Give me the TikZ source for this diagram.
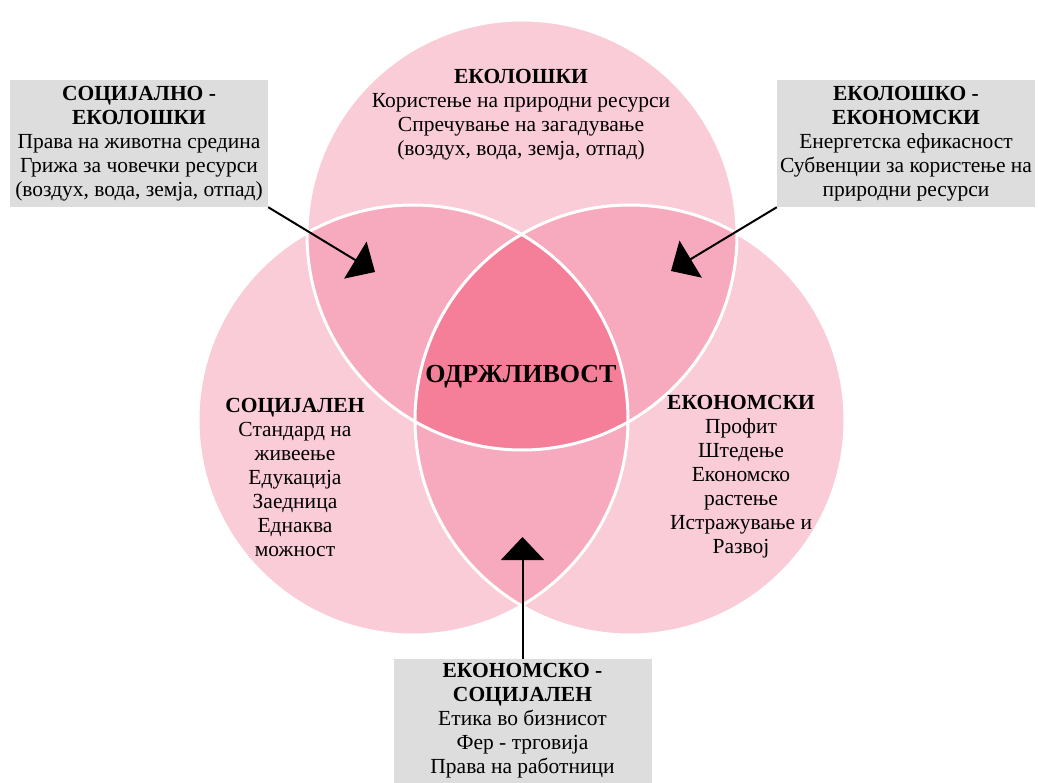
\documentclass[tikz,border=0pt]{standalone}
\usepackage{fontspec}
\setmainfont{Liberation Serif}
\usetikzlibrary{arrows.meta}
\usetikzlibrary{positioning}
\definecolor{light-pink}{RGB}{249, 204, 216}
\definecolor{mid-pink}{RGB}{247, 170, 190}
\definecolor{dark-pink}{RGB}{245, 126, 153}
\definecolor{box-gray}{RGB}{221, 221, 221}
\tikzset{
  textfont/.style={font=\fontsize{21.5}{24}\selectfont},
  infobox/.style={textfont, fill=box-gray, minimum width=258pt, align=center, inner sep=0pt},
  circlabel/.style={textfont, align=center, inner sep=0pt},
  pointer/.style={line width=2pt, -{Triangle[length=23pt,width=43pt]}}
}
\begin{document}
\begin{tikzpicture}[x=1pt,y=-1pt]
\useasboundingbox (0,0) rectangle (1038,783);
\coordinate (eko) at (522,235);
\coordinate (soc) at (413,420);
\coordinate (ekon) at (630,420);

\fill[light-pink] (eko) circle (215pt);
\fill[light-pink] (soc) circle (215pt);
\fill[light-pink] (ekon) circle (215pt);
\begin{scope}
\clip (eko) circle (215pt);
\fill[mid-pink] (soc) circle (215pt);
\fill[mid-pink] (ekon) circle (215pt);
\end{scope}
\begin{scope}
\clip (soc) circle (215pt);
\fill[mid-pink] (ekon) circle (215pt);
\end{scope}
\begin{scope}
\clip (eko) circle (215pt);
\clip (soc) circle (215pt);
\fill[dark-pink] (ekon) circle (215pt);
\end{scope}
\draw[white, line width=3pt] (eko) circle (215pt) (soc) circle (215pt) (ekon) circle (215pt);

\node[circlabel] (ekolabel) at (521,115) {\textbf{ЕКОЛОШКИ}\\Користење на природни ресурси\\Спречување на загадување\\(воздух, вода, земја, отпад)};
\node[circlabel] (soclabel) at (295,477) {\textbf{СОЦИЈАЛЕН}\\Стандард на\\живеење\\Едукација\\Заедница\\Еднаква\\можност};
\node[circlabel] (ekonlabel) at (741,477) {\textbf{ЕКОНОМСКИ}\\Профит\\Штедење\\Економско\\растење\\Истражување и\\Развој};
\node[font=\bfseries\fontsize{26}{30}\selectfont, inner sep=0pt] (center) at (521,377) {ОДРЖЛИВОСТ};

\node[infobox, minimum height=127pt] (socekobox) at (139,143.5) {\textbf{СОЦИЈАЛНО -}\\\textbf{ЕКОЛОШКИ}\\Права на животна средина\\Грижа за човечки ресурси\\(воздух, вода, земја, отпад)};
\node[infobox, minimum height=127pt] (ekoekonbox) at (906,143.5) {\textbf{ЕКОЛОШКО -}\\\textbf{ЕКОНОМСКИ}\\Енергетска ефикасност\\Субвенции за користење на\\природни ресурси};
\node[infobox, minimum height=124pt] (ekonsocbox) at (522.5,721) {\textbf{ЕКОНОМСКО -}\\\textbf{СОЦИЈАЛЕН}\\Етика во бизнисот\\Фер - трговија\\Права на работници};

\coordinate (socekotip) at (375,272);
\coordinate (ekoekontip) at (671,271);
\coordinate (ekonsoctip) at (522.5,537);
\draw[pointer] (socekobox.south east) -- (socekotip);
\draw[pointer] (ekoekonbox.south west) -- (ekoekontip);
\draw[pointer] (ekonsocbox.north) -- (ekonsoctip);
\end{tikzpicture}
\end{document}
